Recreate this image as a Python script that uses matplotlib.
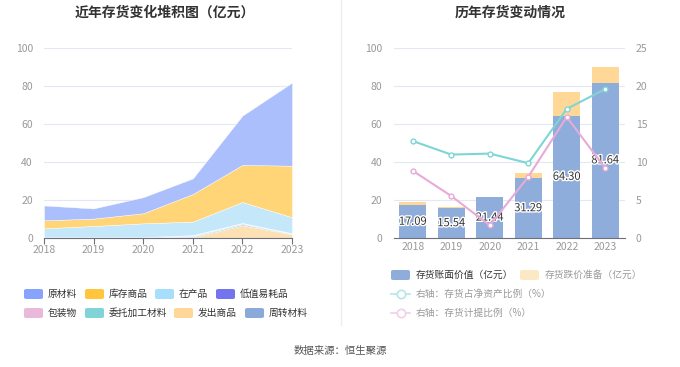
import numpy as np
import matplotlib
matplotlib.use("Agg")
import matplotlib.pyplot as plt
from matplotlib.patches import FancyBboxPatch
from matplotlib.lines import Line2D
import matplotlib.patheffects as pe

plt.rcParams['font.family'] = ['Noto Sans CJK SC', 'DejaVu Sans']

years = [2018, 2019, 2020, 2021, 2022, 2023]
year_labels = [str(y) for y in years]

# left chart: stacked inventory composition (亿元)
raw_material = [7.79, 5.34, 8.44, 8.19, 25.9, 43.64]     # 原材料
finished_goods = [4.2, 3.9, 5.3, 14.5, 19.5, 27.1]        # 库存商品
wip = [4.6, 5.7, 7.2, 7.1, 11.0, 8.4]                     # 在产品
low_value = [0.1, 0.1, 0.1, 0.1, 0.1, 0.1]                # 低值易耗品
packaging = [0.1, 0.1, 0.1, 0.4, 0.5, 0.2]                # 包装物
consigned = [0.0, 0.0, 0.0, 0.5, 0.6, 0.3]                # 委托加工材料
shipped = [0.0, 0.0, 0.0, 0.3, 6.7, 1.9]                  # 发出商品
turnover = [0.3, 0.4, 0.3, 0.2, 0.0, 0.0]                 # 周转材料

# right chart
book_value = [17.09, 15.54, 21.44, 31.29, 64.30, 81.64]   # 存货账面价值
impairment = [1.66, 0.91, 0.36, 2.74, 12.16, 8.24]        # 存货跌价准备
ratio_net_assets = [12.74, 10.96, 11.09, 9.83, 16.96, 19.57]
ratio_provision = [8.83, 5.52, 1.65, 8.04, 15.9, 9.17]

fig = plt.figure(figsize=(6.8, 3.67), dpi=100)

grid_c = "#e3e8f5"
tick_c = "#999999"
axis_c = "#6e7079"

# ---------------- left chart ----------------
ax1 = fig.add_axes([44 / 680, 1 - 238 / 367, 248 / 680, 190.3 / 367])
stack_layers = [
    (shipped, "#fde0b4"),
    (consigned, "#8ed8da"),
    (packaging, "#ecc4e0"),
    (low_value, "#8585ee"),
    (turnover, "#9bb7df"),
    (wip, "#c4e8fa"),
    (finished_goods, "#ffd577"),
    (raw_material, "#aabffc"),
]
ax1.stackplot(years, *[v for v, _ in stack_layers],
              colors=[c for _, c in stack_layers], linewidth=0.3,
              edgecolor="white", zorder=2)
ax1.set_xlim(2018, 2023)
ax1.set_ylim(0, 100)
ax1.set_yticks([0, 20, 40, 60, 80, 100])
ax1.set_xticks(years)
ax1.set_xticklabels(year_labels)
ax1.grid(axis="y", color=grid_c, linewidth=0.8, zorder=0)
for s in ["top", "right", "left"]:
    ax1.spines[s].set_visible(False)
ax1.spines["bottom"].set_color(axis_c)
ax1.tick_params(axis="y", length=0, colors=tick_c, labelsize=7.5, pad=8)
ax1.tick_params(axis="x", length=4, color=axis_c, colors=tick_c, labelsize=7.5, pad=1)
ax1.set_axisbelow(True)

fig.text(165 / 680, 1 - 13 / 367, "近年存货变化堆积图（亿元）", ha="center", va="center",
         fontsize=10, fontweight="bold", color="#333333")

# ---------------- right chart ----------------
ax2 = fig.add_axes([393.5 / 680, 1 - 238 / 367, 231 / 680, 190.3 / 367])
x = np.arange(len(years))
ax2.bar(x, book_value, width=0.69, color="#8eadda", zorder=2)
ax2.bar(x, impairment, width=0.69, bottom=book_value, color="#ffd898", zorder=2)
ax2.set_xlim(-0.5, 5.5)
ax2.set_ylim(0, 100)
ax2.set_yticks([0, 20, 40, 60, 80, 100])
ax2.set_xticks(x)
ax2.set_xticklabels(year_labels)
ax2.grid(axis="y", color=grid_c, linewidth=0.8, zorder=0)
for s in ["top", "right", "left"]:
    ax2.spines[s].set_visible(False)
ax2.spines["bottom"].set_color(axis_c)
ax2.tick_params(axis="y", length=0, colors=tick_c, labelsize=7.5, pad=8)
ax2.tick_params(axis="x", length=0, colors=tick_c, labelsize=7.5, pad=3)
ax2.set_axisbelow(True)

for xi, v in zip(x, book_value):
    ax2.text(xi, v / 2, f"{v:.2f}", ha="center", va="center", fontsize=8,
             color="#333333", zorder=5,
             path_effects=[pe.withStroke(linewidth=2, foreground="white")])

ax3 = ax2.twinx()
ax3.set_ylim(0, 25)
ax3.set_yticks([0, 5, 10, 15, 20, 25])
for s in ["top", "right", "left", "bottom"]:
    ax3.spines[s].set_visible(False)
ax3.tick_params(axis="y", length=0, colors=tick_c, labelsize=7.5, pad=8)
ax3.plot(x, ratio_net_assets, color="#7fd5d6", linewidth=1.5, marker="o",
         markersize=3.5, markerfacecolor="white", markeredgewidth=1, zorder=4)
ax3.plot(x, ratio_provision, color="#e8aad8", linewidth=1.5, marker="o",
         markersize=3.5, markerfacecolor="white", markeredgewidth=1, zorder=3)

fig.text(510 / 680, 1 - 13 / 367, "历年存货变动情况", ha="center", va="center",
         fontsize=10, fontweight="bold", color="#333333")

# divider
fig.add_artist(Line2D([341 / 680, 341 / 680], [1 - 325 / 367, 1.0],
                      color="#eeeeee", linewidth=1))


def patch(px, py, color):
    fig.add_artist(FancyBboxPatch((px / 680, 1 - (py + 5) / 367), 19 / 680, 10 / 367,
                                  boxstyle="round,pad=0,rounding_size=0.004",
                                  transform=fig.transFigure, color=color, lw=0))


# left legend
left_legend = [
    ("原材料", "#87a3fb", 24, 294), ("库存商品", "#ffc53d", 85, 294),
    ("在产品", "#a7dffa", 155, 294), ("低值易耗品", "#7474ee", 216, 294),
    ("包装物", "#e8b9d9", 24, 313), ("委托加工材料", "#80d4d8", 85, 313),
    ("发出商品", "#ffd899", 174, 313), ("周转材料", "#8aabda", 245, 313),
]
for name, c, px, py in left_legend:
    patch(px, py, c)
    fig.text((px + 24) / 680, 1 - py / 367, name, ha="left", va="center",
             fontsize=7, color="#333333")

# right legend
patch(391, 275, "#8eadda")
fig.text(416 / 680, 1 - 275 / 367, "存货账面价值（亿元）", ha="left", va="center",
         fontsize=7, color="#333333")
patch(520, 275, "#fde8c6")
fig.text(545 / 680, 1 - 275 / 367, "存货跌价准备（亿元）", ha="left", va="center",
         fontsize=7, color="#999999")
for py, c, label in [(294, "#b5e6e8", "右轴：存货占净资产比例（%）"),
                     (313, "#f2cfe8", "右轴：存货计提比例（%）")]:
    fig.add_artist(Line2D([391 / 680, 410 / 680], [1 - py / 367, 1 - py / 367],
                          color=c, linewidth=1.2))
    fig.add_artist(Line2D([400.5 / 680], [1 - py / 367], marker="o", markersize=6,
                          markerfacecolor="white", markeredgecolor=c,
                          markeredgewidth=1.2, linestyle="none"))
    fig.text(416 / 680, 1 - py / 367, label, ha="left", va="center",
             fontsize=7, color="#999999")

fig.text(340 / 680, 1 - 351 / 367, "数据来源：恒生聚源", ha="center", va="center",
         fontsize=7.5, color="#555555")

fig.savefig("out.png", dpi=100)
